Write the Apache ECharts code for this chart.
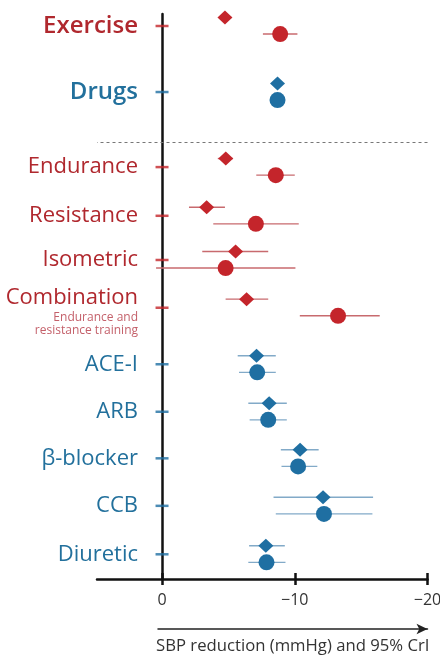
<!DOCTYPE html>
<html>
<head>
<meta charset="utf-8">
<script src="https://cdn.jsdelivr.net/npm/echarts@6/dist/echarts.min.js"></script>
<style>
  html, body { margin: 0; padding: 0; background: #fff; }
  #chart { width: 440px; height: 657px; }
</style>
</head>
<body>
<div id="chart"></div>
<script>
// ---------- DATA ----------
const categories = ['Exercise', 'Drugs', 'Endurance', 'Resistance', 'Isometric', 'Combination',
                    'ACE-I', 'ARB', 'β-blocker', 'CCB', 'Diuretic'];
const groups = ['ex', 'drug', 'ex', 'ex', 'ex', 'ex', 'drug', 'drug', 'drug', 'drug', 'drug'];
// SBP change (mmHg), diamond estimate and 95% CrI
const diamondMean = [-4.74, -8.7, -4.8, -3.36, -5.54, -6.37, -7.12, -8.07, -10.4, -12.13, -7.82];
const diamondLo   = [-4.5, -8.5, -4.2, -2.03, -3.03, -4.79, -5.7, -6.5, -8.95, -8.4, -6.56];
const diamondHi   = [-5.0, -8.9, -5.35, -4.74, -8.0, -8.0, -8.57, -9.4, -11.8, -15.9, -9.25];
// circle estimate and 95% CrI
const circleMean = [-8.9, -8.7, -8.57, -7.07, -4.79, -13.26, -7.17, -8.0, -10.25, -12.2, -7.87];
const circleLo   = [-7.6, -8.5, -7.1, -3.86, 0.45, -10.38, -5.8, -6.6, -9.0, -8.57, -6.5];
const circleHi   = [-10.2, -8.9, -10.0, -10.3, -10.05, -16.4, -8.57, -9.4, -11.7, -15.85, -9.3];
const xTickValues = [0, -10, -20];
const xAxisTitle = 'SBP reduction (mmHg) and 95% CrI';

// ---------- LAYOUT ----------
const rowPos = [0, 2.78, 5.94, 7.99, 9.85, 11.86, 14.24, 16.24, 18.2, 20.2, 22.24];
const separatorPos = 4.88;
const diamondOffset = -0.36;
const circleOffset = 0.34;
const RED = '#c4252b', BLUE = '#1f6fa2';
const RED_TXT = '#b0282e', BLUE_TXT = '#22709c';
const RED_BAR = '#c86a6e', BLUE_BAR = '#82aac8';
const FONT = 'Open Sans';

function colorOf(i) { return groups[i] === 'ex' ? RED : BLUE; }

function buildMarks(means, offset, groupKey) {
  const out = [];
  means.forEach((m, i) => { if (groups[i] === groupKey) out.push([m, rowPos[i] + offset]); });
  return out;
}
function buildBars(lo, hi, offset, groupKey) {
  const out = [];
  lo.forEach((l, i) => { if (groups[i] === groupKey) out.push([l, hi[i], rowPos[i] + offset]); });
  return out;
}
function barSeries(data, color) {
  return {
    type: 'custom',
    xAxisIndex: 0, yAxisIndex: 0,
    data: data,
    encode: { x: [0, 1], y: 2 },
    z: 3,
    renderItem: function (params, api) {
      const y = api.value(2);
      const p1 = api.coord([api.value(0), y]);
      const p2 = api.coord([api.value(1), y]);
      return { type: 'line', shape: { x1: p1[0], y1: p1[1], x2: p2[0], y2: p2[1] },
               style: { stroke: color, lineWidth: 1.4 } };
    }
  };
}
function markSeries(name, data, symbol, size, color) {
  return { name: name, type: 'scatter', xAxisIndex: 0, yAxisIndex: 0, data: data,
           symbol: symbol, symbolSize: size, itemStyle: { color: color, opacity: 1 }, z: 5,
           emphasis: { disabled: true } };
}

const tickData = rowPos.map((p, i) => ({ value: [0, p], itemStyle: { color: colorOf(i) } }));

const labelOf = function (v) {
  let best = 0;
  rowPos.forEach((p, i) => { if (Math.abs(p - v) < Math.abs(rowPos[best] - v)) best = i; });
  const name = categories[best];
  const g = groups[best];
  if (best <= 1) return '{' + (g === 'ex' ? 'exB' : 'drB') + '|' + name + '}';
  if (name === 'Combination') {
    return '{sp| }\n{ex|Combination}\n{sub|Endurance and}\n{sub|resistance training}';
  }
  return '{' + g + '|' + name + '}';
};

const chart = echarts.init(document.getElementById('chart'), null, { renderer: 'canvas' });
chart.setOption({
  animation: false,
  backgroundColor: '#fff',
  textStyle: { fontFamily: FONT },
  grid: [
    { left: 97, right: 12.5, top: 14, bottom: 78, containLabel: false, outerBoundsMode: 'none' },
    { left: 158, right: 12.5, top: 628, height: 1, containLabel: false, outerBoundsMode: 'none' }
  ],
  xAxis: [
    {
      type: 'value', gridIndex: 0, inverse: true, min: -20, max: 4.9, position: 'bottom',
      axisLine: { show: true, onZero: false, lineStyle: { color: '#111', width: 2.5 } },
      axisTick: { show: false },
      splitLine: { show: false },
      axisLabel: {
        customValues: xTickValues, margin: 13, fontSize: 16, color: '#333', fontFamily: FONT,
        formatter: v => String(v).replace('-', '\u2212')
      }
    },
    {
      type: 'value', gridIndex: 0, inverse: true, min: -20, max: 4.9, position: 'bottom', offset: -6,
      axisLine: { show: false, onZero: false },
      axisTick: { show: true, customValues: xTickValues, length: 12, lineStyle: { color: '#111', width: 2.5 } },
      axisLabel: { show: false },
      splitLine: { show: false }
    },
    {
      type: 'value', gridIndex: 1, min: 0, max: 1, position: 'bottom',
      axisLine: { show: true, onZero: false, symbol: ['none', 'arrow'], symbolSize: [8, 11],
                  lineStyle: { color: '#222', width: 1.5 } },
      axisTick: { show: false }, axisLabel: { show: false }, splitLine: { show: false },
      name: xAxisTitle, nameLocation: 'middle', nameGap: 9,
      nameTextStyle: { fontSize: 16.7, color: '#333', fontFamily: FONT, verticalAlign: 'top' }
    }
  ],
  yAxis: [
    {
      type: 'value', gridIndex: 0, inverse: true, min: -0.505, max: 23.28,
      axisLine: { show: true, onZero: true, lineStyle: { color: '#111', width: 2.5 } },
      axisTick: { show: false },
      splitLine: { show: false },
      axisLabel: {
        customValues: rowPos, margin: -41, formatter: labelOf, fontFamily: FONT,
        hideOverlap: false,
        rich: {
          exB: { color: RED_TXT, fontSize: 24, fontWeight: 600, fontFamily: FONT, align: 'right' },
          drB: { color: BLUE_TXT, fontSize: 24, fontWeight: 600, fontFamily: FONT, align: 'right' },
          ex: { color: RED_TXT, fontSize: 22, fontFamily: FONT, align: 'right', lineHeight: 26 },
          drug: { color: BLUE_TXT, fontSize: 22, fontFamily: FONT, align: 'right' },
          sub: { color: '#c4606a', fontSize: 12, fontFamily: FONT, align: 'right', lineHeight: 13 },
          sp: { fontSize: 1, lineHeight: 6, align: 'right' }
        }
      }
    },
    { type: 'value', gridIndex: 1, show: false }
  ],
  series: [
    {
      type: 'scatter', xAxisIndex: 0, yAxisIndex: 0, data: tickData, symbol: 'rect',
      symbolSize: [13, 2.5], z: 2, silent: true,
      markLine: {
        silent: true, symbol: 'none', label: { show: false },
        lineStyle: { color: '#777', type: [3, 3], width: 1 },
        data: [{ yAxis: separatorPos }]
      }
    },
    barSeries(buildBars(diamondLo, diamondHi, diamondOffset, 'ex'), RED_BAR),
    barSeries(buildBars(circleLo, circleHi, circleOffset, 'ex'), RED_BAR),
    barSeries(buildBars(diamondLo, diamondHi, diamondOffset, 'drug'), BLUE_BAR),
    barSeries(buildBars(circleLo, circleHi, circleOffset, 'drug'), BLUE_BAR),
    markSeries('Diamond', buildMarks(diamondMean, diamondOffset, 'ex'), 'diamond', [15, 14], RED),
    markSeries('Circle', buildMarks(circleMean, circleOffset, 'ex'), 'circle', 16, RED),
    markSeries('Diamond', buildMarks(diamondMean, diamondOffset, 'drug'), 'diamond', [15, 14], BLUE),
    markSeries('Circle', buildMarks(circleMean, circleOffset, 'drug'), 'circle', 16, BLUE)
  ]
});
</script>
</body>
</html>
